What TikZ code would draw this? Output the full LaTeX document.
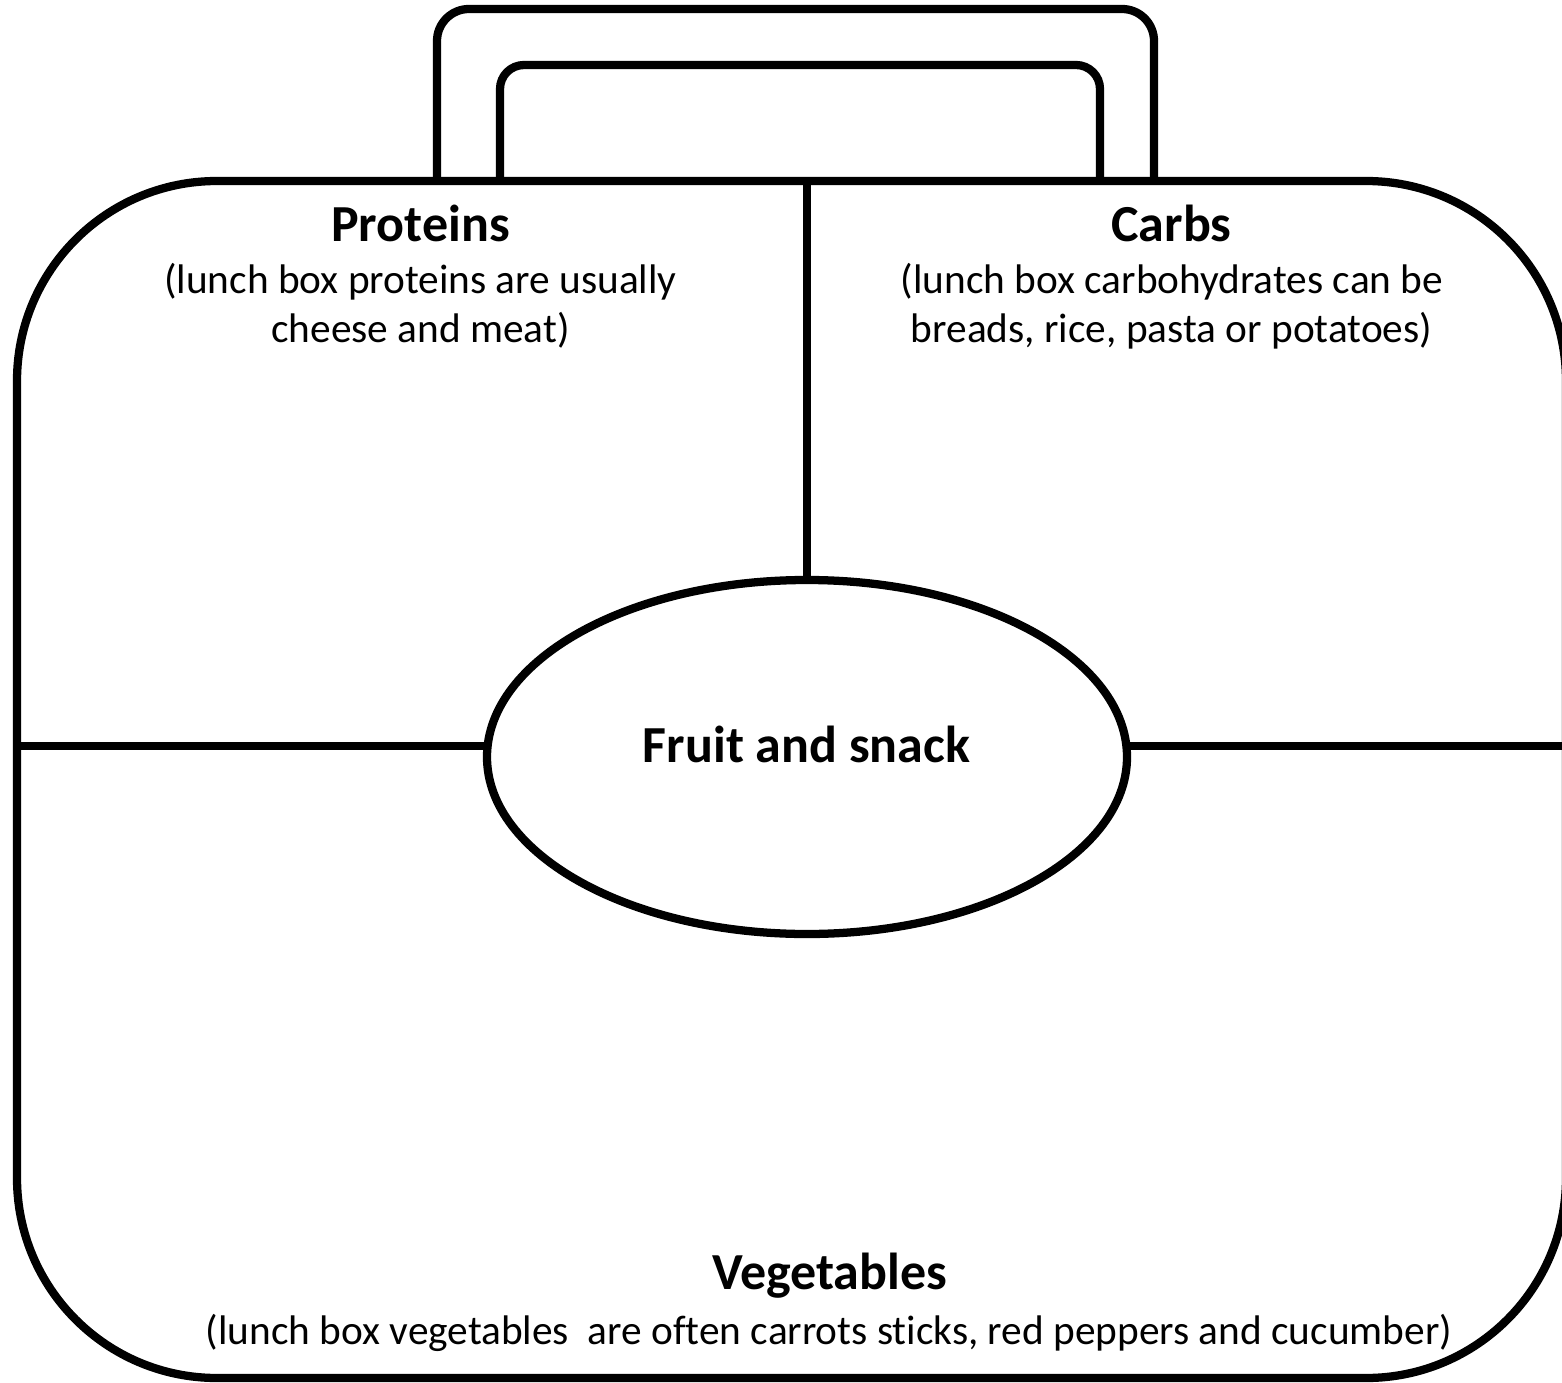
\documentclass[tikz,border=0pt]{standalone}
\usepackage{fontspec}
\setmainfont[Ligatures=NoCommon]{Carlito}
\usetikzlibrary{shapes.geometric}
\begin{document}
\begin{tikzpicture}[x=0.75pt,y=-0.75pt,
  outline/.style={line width=6.2pt, draw=black},
  head/.style={font=\bfseries\fontsize{39}{47}\selectfont, anchor=base, inner sep=0pt},
  sub/.style={font=\fontsize{31}{37.5}\selectfont, anchor=base, inner sep=0pt}]
\useasboundingbox[fill=white] (0,0) rectangle (1562,1383);
% box outline
\coordinate (boxTL) at (17,181);
\coordinate (boxBR) at (1566,1378);
\draw[outline, rounded corners=150pt] (boxTL) rectangle (boxBR);
% handle
\draw[outline, rounded corners=24pt] (437,181) -- (437,9) -- (1154,9) -- (1154,181);
\draw[outline, rounded corners=18pt] (500,181) -- (500,65) -- (1100,65) -- (1100,181);
% central ellipse
\node[ellipse, outline, minimum width=480pt, minimum height=265.5pt, inner sep=0pt] (ell) at (807,757) {};
\coordinate (rightEdge) at (1566,745);
\draw[outline] (ell.north) -- (ell.north |- boxTL);
\draw[outline] (boxTL |- ell.178) -- (ell.178);
\draw[outline] (ell.2) -- (rightEdge |- ell.2);
% texts
\node[head] (prot) at (420.5,242) {Proteins};
\node[sub] (prot1) at (420.5,294) {(lunch box proteins are usually};
\node[sub] (prot2) at (420.5,343) {cheese and meat)};
\node[head] (carb) at (1171.5,242) {Carbs};
\node[sub] (carb1) at (1172,294) {(lunch box carbohydrates can be};
\node[sub] (carb2) at (1171.5,343) {breads, rice, pasta or potatoes)};
\node[head] (fruit) at (806.5,762) {Fruit and snack};
\node[head] (veg) at (829.5,1289) {Vegetables};
\node[sub] (veg1) at (829,1344) {(lunch box vegetables\ \ are often carrots sticks, red peppers and cucumber)};
\end{tikzpicture}
\end{document}
